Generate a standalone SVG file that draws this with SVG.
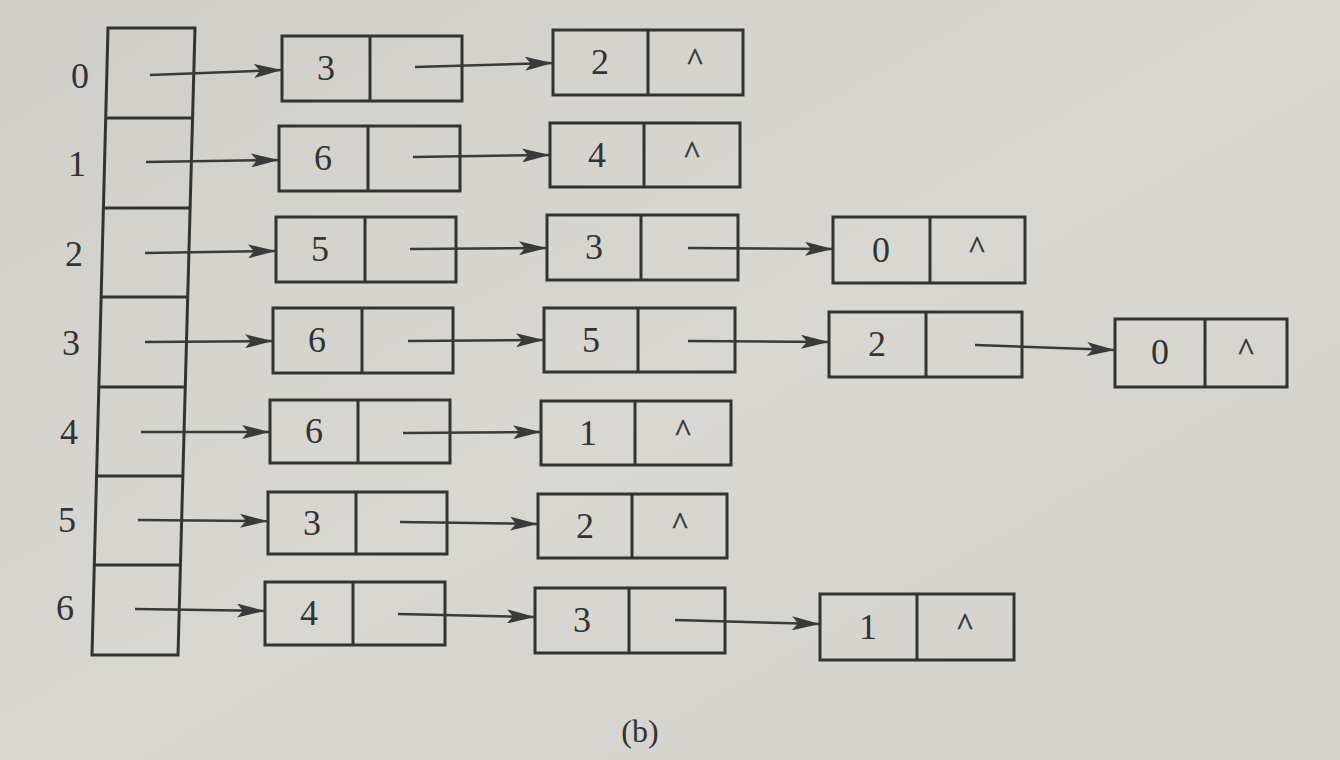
<svg xmlns="http://www.w3.org/2000/svg" width="1340" height="760" viewBox="0 0 1340 760">
<defs>
<linearGradient id="bg" x1="0" y1="0" x2="1" y2="1">
<stop offset="0" stop-color="#cfcec9"/>
<stop offset="0.5" stop-color="#d8d7d2"/>
<stop offset="1" stop-color="#d3d2cd"/>
</linearGradient>
<marker id="ah" markerUnits="userSpaceOnUse" markerWidth="30" markerHeight="14" refX="28" refY="7" orient="auto">
<path d="M0,0 L28,7 L0,14 L6,7 Z" fill="#3a3a3a"/>
</marker>
<style>
.cell{fill:none;stroke:#333;stroke-width:3}
.t{font-family:"Liberation Serif",serif;font-size:36px;fill:#333;text-anchor:middle}
.c{font-family:"Liberation Serif",serif;font-size:32px;fill:#333;text-anchor:middle;stroke:#333;stroke-width:0.6}
.e{stroke:#3a3a3a;stroke-width:2.5;fill:none;marker-end:url(#ah)}
</style>
</defs>
<rect width="1340" height="760" fill="url(#bg)"/>

<g id="vertices">
<polygon class="cell" points="108,28 195,28 178,655 92,655"/>
<line class="cell" x1="105.7" y1="118" x2="192.6" y2="118"/>
<line class="cell" x1="103.4" y1="208" x2="190.1" y2="208"/>
<line class="cell" x1="101.1" y1="297" x2="187.7" y2="297"/>
<line class="cell" x1="98.8" y1="387" x2="185.3" y2="387"/>
<line class="cell" x1="96.6" y1="476" x2="182.9" y2="476"/>
<line class="cell" x1="94.3" y1="565" x2="180.4" y2="565"/>
<text class="t" x="80" y="88">0</text>
<text class="t" x="77" y="176">1</text>
<text class="t" x="74" y="266">2</text>
<text class="t" x="71" y="355">3</text>
<text class="t" x="69" y="444">4</text>
<text class="t" x="67" y="532">5</text>
<text class="t" x="65" y="620">6</text>
</g>

<g id="r0n1"><rect class="cell" x="282" y="36" width="180" height="65"/><line class="cell" x1="370" y1="36" x2="370" y2="101"/><text class="t" x="326" y="80">3</text></g>
<g id="r0n2"><rect class="cell" x="553" y="30" width="190" height="65"/><line class="cell" x1="648" y1="30" x2="648" y2="95"/><text class="t" x="600" y="74">2</text><text class="c" x="695" y="70">^</text></g>

<g id="r1n1"><rect class="cell" x="279" y="126" width="181" height="65"/><line class="cell" x1="368" y1="126" x2="368" y2="191"/><text class="t" x="323" y="170">6</text></g>
<g id="r1n2"><rect class="cell" x="550" y="123" width="190" height="64"/><line class="cell" x1="644" y1="123" x2="644" y2="187"/><text class="t" x="597" y="167">4</text><text class="c" x="692" y="163">^</text></g>

<g id="r2n1"><rect class="cell" x="276" y="217" width="180" height="65"/><line class="cell" x1="365" y1="217" x2="365" y2="282"/><text class="t" x="320" y="261">5</text></g>
<g id="r2n2"><rect class="cell" x="547" y="215" width="191" height="65"/><line class="cell" x1="641" y1="215" x2="641" y2="280"/><text class="t" x="594" y="259">3</text></g>
<g id="r2n3"><rect class="cell" x="833" y="217" width="192" height="66"/><line class="cell" x1="930" y1="217" x2="930" y2="283"/><text class="t" x="881" y="262">0</text><text class="c" x="977" y="258">^</text></g>

<g id="r3n1"><rect class="cell" x="273" y="308" width="180" height="65"/><line class="cell" x1="362" y1="308" x2="362" y2="373"/><text class="t" x="317" y="352">6</text></g>
<g id="r3n2"><rect class="cell" x="544" y="308" width="191" height="64"/><line class="cell" x1="638" y1="308" x2="638" y2="372"/><text class="t" x="591" y="352">5</text></g>
<g id="r3n3"><rect class="cell" x="829" y="312" width="193" height="65"/><line class="cell" x1="926" y1="312" x2="926" y2="377"/><text class="t" x="877" y="356">2</text></g>
<g id="r3n4"><rect class="cell" x="1115" y="319" width="172" height="68"/><line class="cell" x1="1205" y1="319" x2="1205" y2="387"/><text class="t" x="1160" y="364">0</text><text class="c" x="1246" y="360">^</text></g>

<g id="r4n1"><rect class="cell" x="270" y="400" width="180" height="63"/><line class="cell" x1="358" y1="400" x2="358" y2="463"/><text class="t" x="314" y="443">6</text></g>
<g id="r4n2"><rect class="cell" x="541" y="401" width="190" height="64"/><line class="cell" x1="635" y1="401" x2="635" y2="465"/><text class="t" x="588" y="445">1</text><text class="c" x="683" y="441">^</text></g>

<g id="r5n1"><rect class="cell" x="268" y="492" width="179" height="62"/><line class="cell" x1="356" y1="492" x2="356" y2="554"/><text class="t" x="312" y="535">3</text></g>
<g id="r5n2"><rect class="cell" x="538" y="494" width="189" height="64"/><line class="cell" x1="632" y1="494" x2="632" y2="558"/><text class="t" x="585" y="538">2</text><text class="c" x="680" y="534">^</text></g>

<g id="r6n1"><rect class="cell" x="265" y="582" width="180" height="63"/><line class="cell" x1="353" y1="582" x2="353" y2="645"/><text class="t" x="309" y="625">4</text></g>
<g id="r6n2"><rect class="cell" x="535" y="588" width="190" height="65"/><line class="cell" x1="629" y1="588" x2="629" y2="653"/><text class="t" x="582" y="632">3</text></g>
<g id="r6n3"><rect class="cell" x="820" y="594" width="194" height="66"/><line class="cell" x1="917" y1="594" x2="917" y2="660"/><text class="t" x="868" y="639">1</text><text class="c" x="965" y="635">^</text></g>

<g id="connectors">
<line class="e" x1="150" y1="75" x2="282" y2="70"/>
<line class="e" x1="415" y1="67" x2="553" y2="63"/>
<line class="e" x1="146" y1="162" x2="279" y2="160"/>
<line class="e" x1="413" y1="157" x2="550" y2="155"/>
<line class="e" x1="145" y1="253" x2="276" y2="251"/>
<line class="e" x1="410" y1="249" x2="547" y2="248"/>
<line class="e" x1="688" y1="248" x2="833" y2="249"/>
<line class="e" x1="145" y1="342" x2="273" y2="341"/>
<line class="e" x1="408" y1="341" x2="544" y2="340"/>
<line class="e" x1="688" y1="341" x2="829" y2="342"/>
<line class="e" x1="975" y1="345" x2="1115" y2="350"/>
<line class="e" x1="141" y1="432" x2="270" y2="432"/>
<line class="e" x1="403" y1="433" x2="541" y2="432"/>
<line class="e" x1="138" y1="520" x2="268" y2="521"/>
<line class="e" x1="400" y1="522" x2="538" y2="524"/>
<line class="e" x1="135" y1="609" x2="265" y2="611"/>
<line class="e" x1="398" y1="614" x2="535" y2="617"/>
<line class="e" x1="675" y1="620" x2="820" y2="624"/>
</g>

<text class="t" x="640" y="742" style="font-size:32px">(b)</text>
</svg>
